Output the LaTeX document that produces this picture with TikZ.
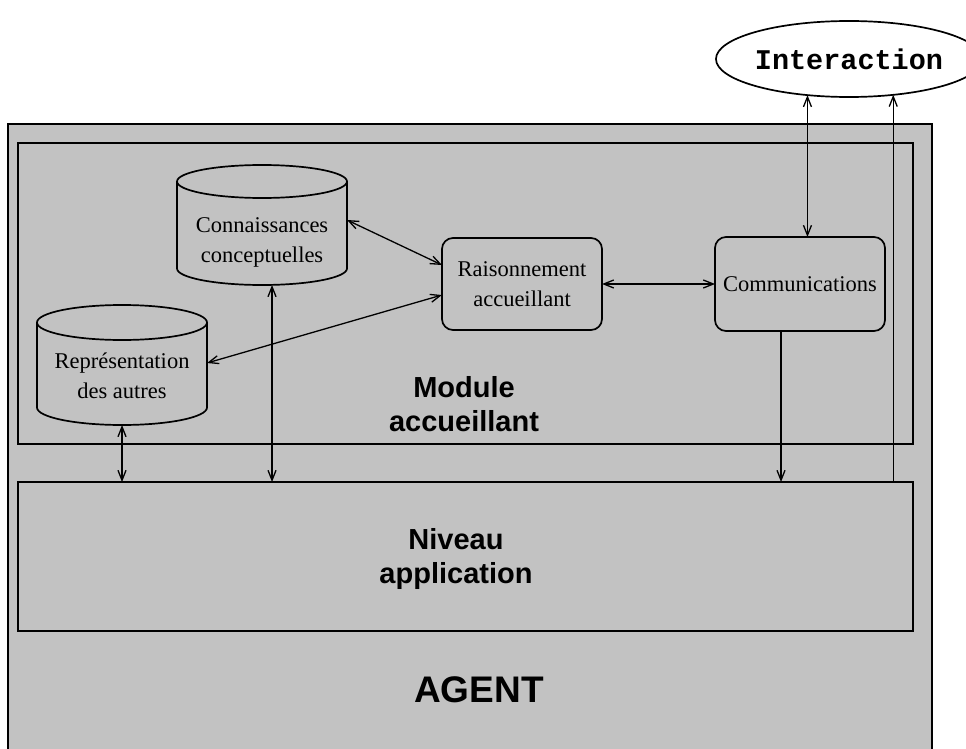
\documentclass[tikz,border=0pt]{standalone}
\usepackage{fontspec}
\setmainfont{Liberation Serif}
\newfontfamily\sansfam{Liberation Sans}
\newfontfamily\monofam{Liberation Mono}
\usetikzlibrary{arrows.meta,shapes.geometric}
\definecolor{bggray}{gray}{0.76}
\begin{document}
\begin{tikzpicture}[x=1pt,y=-1pt,
  >={Straight Barb[length=10pt,width=8pt]},
  box/.style={draw, line width=1.7pt, fill=bggray, inner sep=0pt, outer sep=0pt, anchor=north west},
  rbox/.style={draw, line width=1.7pt, rounded corners=11pt, inner sep=0pt, outer sep=0pt,
    align=center, font=\fontsize{22.5}{30}\selectfont},
  geo/.style={inner sep=0pt, outer sep=0pt},
  serif/.style={font=\fontsize{22.5}{30}\selectfont, align=center, inner sep=0pt},
  bigs/.style={font=\sansfam\bfseries\fontsize{29}{34}\selectfont, align=center, inner sep=0pt},
  cyl/.style={draw, line width=1.7pt},
  lnk/.style={line width=1.3pt}]
\useasboundingbox (0,0) rectangle (966,749);
\clip (0,0) rectangle (966,749);

% frames
\node[box, minimum width=924pt, minimum height=640pt] (agent) at (8,124) {};
\node[box, minimum width=895pt, minimum height=301pt] (module) at (18,143) {};
\node[box, minimum width=895pt, minimum height=149pt] (niveau) at (18,482) {};

% cylinders
\node[geo, minimum width=170pt, minimum height=120pt] (conn) at (262,225) {};
\draw[cyl] (177,181.5) -- (177,268.5) arc[start angle=180, end angle=360, x radius=85pt, y radius=16.5pt] -- (347,181.5);
\draw[cyl] (262,181.5) ellipse [x radius=85pt, y radius=16.5pt];
\node[serif] (conntxt) at (262,242) {Connaissances\\conceptuelles};

\node[geo, minimum width=170pt, minimum height=120pt] (rep) at (122,365) {};
\draw[cyl] (37,322.5) -- (37,407.5) arc[start angle=180, end angle=360, x radius=85pt, y radius=17.5pt] -- (207,322.5);
\draw[cyl] (122,322.5) ellipse [x radius=85pt, y radius=17.5pt];
\node[serif] (reptxt) at (122,376) {Représentation\\des autres};

% process boxes
\node[rbox, minimum width=160pt, minimum height=92pt] (rais) at (522,284) {Raisonnement\\accueillant};
\node[rbox, minimum width=170pt, minimum height=94pt] (comm) at (800,284) {Communications};

% interaction
\node[ellipse, draw, line width=1.7pt, fill=white, inner sep=0pt, outer sep=0pt,
  minimum width=232pt, minimum height=76pt, font=\monofam\bfseries\fontsize{28.5}{30}\selectfont]
  (inter) at (849,59) {Interaction};

% labels
\node[bigs] (modtxt) at (464,404) {Module\\accueillant};
\node[bigs] (nivtxt) at (456,559) {Niveau\\application};
\node[font=\sansfam\bfseries\fontsize{37}{40}\selectfont, inner sep=0pt] (agtxt) at (479,690) {AGENT};

% connectors
\draw[lnk,<->] (inter.221) -- (inter.221 |- comm.north);
\draw[lnk,->] (niveau.north -| inter.321) -- (inter.321);
\draw[lnk,->] ([xshift=-19pt]comm.south) -- ([xshift=-19pt]comm.south |- niveau.north);
\draw[lnk,<->] (rais.east) -- (comm.west);
\draw[lnk,<->] ([yshift=5pt]conn.east) -- ([yshift=19pt]rais.west);
\draw[lnk,<->] ([yshift=-11pt]rais.west) -- ([yshift=2pt]rep.east);
\draw[lnk,<->] ([xshift=10pt]conn.south) -- ([xshift=10pt]conn.south |- niveau.north);
\draw[lnk,<->] (rep.south) -- (rep.south |- niveau.north);
\end{tikzpicture}
\end{document}
